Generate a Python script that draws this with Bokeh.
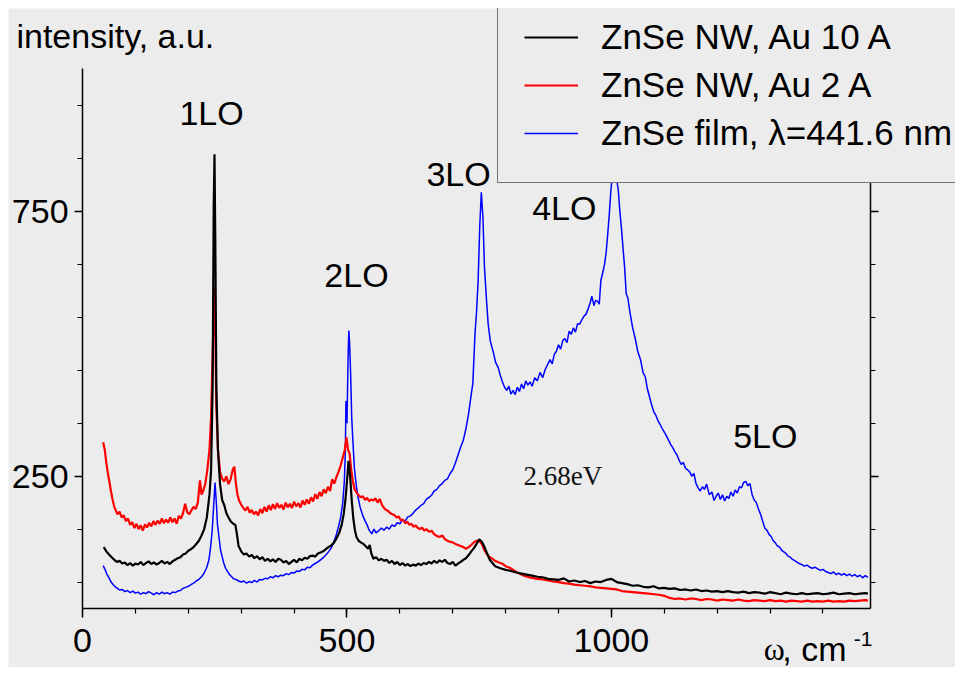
from bokeh.plotting import figure
from bokeh.models import (Range1d, LinearAxis, FixedTicker, SingleIntervalTicker,
                          Legend, LegendItem, Label)
from bokeh.embed import file_html
from bokeh.resources import INLINE

# ---------------- data ----------------
series_names = ["ZnSe NW, Au 10 A", "ZnSe NW, Au 2 A", "ZnSe film, \u03bb=441.6 nm"]

black_x = [40, 45, 50, 55, 60, 65, 70, 75, 80, 85, 90, 95, 100, 105, 110, 115, 120, 125, 130, 135,
           140, 145, 150, 155, 160, 165, 170, 175, 180, 185, 190, 195, 200, 205, 210, 215, 220, 225,
           230, 235, 240, 243, 246, 248, 249.5, 251, 253, 256, 260, 264, 268, 272, 276, 280, 285, 289,
           292, 295, 300, 305, 310, 315, 320, 325, 330, 335, 340, 345, 350, 355, 360, 365, 370, 375,
           380, 385, 390, 395, 400, 405, 410, 415, 420, 425, 430, 435, 440, 445, 450, 455, 460, 465,
           470, 475, 480, 485, 490, 494, 497, 500, 503, 506, 509, 512, 515, 518, 522, 526, 531, 535,
           540, 543, 546, 550, 555, 560, 565, 570, 575, 580, 585, 590, 595, 600, 605, 610, 615, 620,
           625, 630, 635, 640, 645, 650, 655, 660, 665, 670, 675, 680, 685, 690, 695, 700, 705, 710,
           715, 720, 725, 730, 735, 740, 745, 750, 755, 760, 765, 770, 775, 780, 785, 790, 800, 810,
           820, 830, 840, 850, 860, 870, 880, 890, 900, 910, 920, 930, 940, 950, 960, 970, 980, 990,
           1000, 1010, 1020, 1030, 1040, 1050, 1060, 1070, 1080, 1090, 1100, 1110, 1120, 1130, 1140,
           1150, 1160, 1170, 1180, 1190, 1200, 1210, 1220, 1230, 1240, 1250, 1260, 1270, 1280, 1290,
           1300, 1310, 1320, 1330, 1340, 1350, 1360, 1370, 1380, 1390, 1400, 1410, 1420, 1430, 1440,
           1450, 1460, 1470, 1480, 1485]
black_y = [116, 108, 102, 97, 92, 88, 90, 85, 87, 82, 86, 81, 85, 83, 88, 82, 86, 89, 84, 87,
           83, 86, 90, 85, 88, 84, 89, 92, 95, 97, 102, 104, 109, 112, 116, 122, 128, 138,
           150, 172, 215, 260, 420, 760, 858, 700, 420, 300, 235, 205, 195, 180, 172, 165, 160, 158,
           140, 118, 108, 102, 104, 98, 101, 95, 99, 93, 97, 90, 94, 89, 93, 88, 94, 92,
           87, 90, 84, 88, 92, 87, 94, 91, 96, 94, 99, 100, 98, 104, 106, 108, 112, 116,
           119, 124, 132, 142, 158, 180, 205, 240, 279, 250, 204, 170, 148, 135, 128, 125, 122, 118,
           113, 120, 104, 94, 97, 91, 94, 90, 92, 86, 90, 84, 88, 82, 86, 81, 84, 80,
           83, 81, 85, 82, 86, 84, 88, 85, 90, 86, 91, 88, 92, 86, 84, 88, 81, 85,
           88, 92, 95, 101, 108, 114, 122, 131, 126, 116, 104, 92, 86, 80, 78, 76, 73, 71,
           68, 66, 64, 62, 60, 59, 56, 55, 54, 57, 51, 53, 50, 52, 48, 51, 50, 54,
           56, 50, 48, 46, 43, 44, 41, 40, 42, 38, 39, 37, 38, 35, 36,
           34, 36, 33, 34, 32, 33, 31, 33, 31, 30, 32, 29, 31, 30, 28,
           31, 29, 27, 30, 28, 27, 29, 27, 28, 29, 27, 28, 30, 27, 28,
           29, 27, 28, 29, 28]

red_x = [39, 42, 45, 48, 51, 54, 57, 60, 63, 66, 70, 74, 78, 82, 86, 90, 94, 98, 102, 106, 110,
         114, 118, 122, 126, 130, 134, 138, 142, 146, 150, 154, 158, 162, 166, 170, 174, 178, 182,
         186, 190, 194, 198, 202, 206, 210, 214, 218, 222, 225, 228, 232, 236, 240, 243, 246, 248,
         249.5, 251, 253, 256, 260, 264, 268, 272, 276, 280, 284, 287, 290, 293, 296, 300, 304, 308,
         312, 316, 320, 324, 328, 332, 336, 340, 344, 348, 352, 356, 360, 364, 368, 372, 376, 380,
         384, 388, 392, 396, 400, 404, 408, 412, 416, 420, 424, 428, 432, 436, 440, 444, 448, 452,
         456, 460, 464, 468, 472, 476, 480, 484, 488, 492, 496, 499, 502, 505, 508, 511, 514, 518,
         522, 526, 530, 534, 538, 542, 546, 550, 554, 558, 562, 566, 570, 574, 578, 582, 586, 590,
         594, 598, 602, 606, 610, 614, 618, 622, 626, 630, 634, 638, 642, 646, 650, 655, 660, 665,
         670, 675, 680, 685, 690, 695, 700, 705, 710, 715, 720, 725, 730, 735, 740, 745, 750, 755,
         760, 765, 770, 775, 780, 785, 790, 795, 800, 810, 820, 830, 840, 850, 860, 870, 880, 890,
         900, 910, 920, 930, 940, 950, 960, 970, 980, 990, 1000, 1010, 1020, 1030, 1040, 1050, 1060,
         1070, 1080, 1090, 1100, 1110, 1120, 1130, 1140, 1150, 1160, 1170, 1180, 1190, 1200, 1210,
         1220, 1230, 1240, 1250, 1260, 1270, 1280, 1290, 1300, 1310, 1320, 1330, 1340, 1350, 1360,
         1370, 1380, 1390, 1400, 1410, 1420, 1430, 1440, 1450, 1460, 1470, 1480, 1485]
red_y = [314, 300, 275, 255, 238, 220, 205, 192, 185, 178, 183, 172, 176, 165, 170, 158, 163, 152, 160, 150, 157,
         147, 159, 153, 162, 155, 165, 158, 166, 160, 170, 161, 168, 162, 172, 163, 170, 160, 175,
         170, 180, 198, 182, 178, 186, 192, 188, 200, 242, 215, 222, 235, 262, 300, 360, 480, 560,
         606, 520, 380, 300, 258, 245, 240, 250, 235, 244, 262, 268, 236, 215, 204, 196, 190, 185,
         192, 181, 186, 178, 183, 176, 188, 180, 192, 183, 195, 186, 197, 188, 199, 190, 196, 187,
         200, 191, 198, 190, 202, 193, 199, 191, 204, 196, 206, 198, 210, 202, 216, 207, 220, 212,
         225, 218, 230, 222, 244, 236, 248, 258, 270, 285, 300, 323, 300, 292, 262, 242, 226, 219,
         214, 210, 212, 205, 209, 203, 206, 204, 208, 200, 207, 196, 190, 186, 184, 180, 178, 176,
         172, 174, 166, 168, 161, 164, 158, 160, 154, 157, 152, 150, 153, 147, 150, 145, 147, 140,
         137, 135, 138, 131, 128, 126, 125, 122, 120, 118, 116, 113, 116, 120, 125, 128, 128, 122,
         110, 102, 97, 94, 90, 88, 86, 84, 80, 76, 69, 64, 60, 58, 56, 55, 53, 51,
         50, 48, 47, 45, 44, 43, 42, 40, 39, 38, 37, 36, 33, 32, 31, 30, 29,
         28, 27, 26, 24, 20, 18, 19, 17, 19, 18, 16, 18, 17, 15, 17,
         16, 15, 17, 15, 14, 16, 15, 14, 16, 14, 15, 13, 15, 14, 13,
         15, 13, 14, 13, 15, 13, 14, 13, 15, 14, 15, 16, 15]

blue_x = [39, 42, 46, 50, 54, 58, 62, 66, 70, 75, 80, 85, 90, 95, 100, 105, 110, 115, 120, 125, 130,
          135, 140, 145, 150, 155, 160, 165, 170, 175, 180, 185, 190, 195, 200, 205, 210, 215, 220,
          225, 230, 235, 239, 242, 245, 248, 250.5, 253, 255, 258, 261, 264, 267, 270, 274, 278, 282,
          286, 290, 295, 300, 305, 310, 315, 320, 325, 330, 335, 340, 345, 350, 355, 360, 365, 370,
          375, 380, 385, 390, 395, 400, 405, 410, 415, 420, 425, 430, 435, 440, 445, 450, 455, 460,
          465, 470, 475, 480, 484, 488, 492, 495, 497, 498, 500, 502, 503.5, 505, 507, 509, 511, 514,
          518, 521, 525, 530, 534, 538, 542, 547, 551, 555, 560, 565, 570, 575, 580, 585, 590, 595,
          600, 605, 610, 615, 620, 625, 630, 635, 640, 645, 650, 655, 660, 665, 670, 675, 680, 685,
          690, 695, 700, 705, 710, 715, 720, 725, 730, 735, 738, 742, 745, 748, 751, 754, 757, 760,
          764, 767, 771, 776, 781, 786, 790, 794, 798, 802, 806, 810, 814, 818, 822, 826, 830, 834,
          838, 842, 846, 850, 855, 860, 865, 870, 875, 880, 884, 888, 892, 896, 900, 904, 908, 912,
          916, 920, 924, 928, 932, 936, 940, 944, 948, 952, 956, 960, 963, 967, 970, 974, 977, 980,
          984, 987, 990, 993, 996, 999, 1002, 1006, 1010, 1013, 1016, 1019, 1022, 1025, 1028, 1031,
          1035, 1040, 1045, 1050, 1055, 1060, 1064, 1068, 1072, 1076, 1080, 1084, 1088, 1092, 1096,
          1100, 1104, 1108, 1112, 1116, 1120, 1124, 1128, 1132, 1136, 1140, 1144, 1148, 1152, 1156,
          1160, 1164, 1168, 1172, 1176, 1180, 1185, 1190, 1194, 1198, 1202, 1206, 1210, 1214, 1218,
          1222, 1226, 1230, 1234, 1238, 1242, 1246, 1250, 1254, 1258, 1262, 1266, 1270, 1274, 1278,
          1282, 1286, 1290, 1294, 1298, 1302, 1306, 1310, 1314, 1318, 1322, 1326, 1330, 1334, 1338,
          1342, 1346, 1350, 1355, 1360, 1365, 1370, 1375, 1380, 1385, 1390, 1395, 1400, 1405, 1410,
          1415, 1420, 1425, 1430, 1435, 1440, 1445, 1450, 1455, 1460, 1465, 1470, 1475, 1480, 1485]
blue_y = [81, 75, 65, 58, 50, 45, 41, 38, 35, 36, 32, 34, 30, 33, 29, 31, 27, 30, 28, 32, 29,
          26, 30, 27, 31, 28, 30, 27, 31, 30, 33, 34, 38, 40, 42, 45, 48, 52, 55,
          60, 67, 78, 92, 115, 145, 195, 238, 200, 160, 135, 110, 98, 86, 77, 70, 64, 60,
          56, 55, 52, 50, 52, 48, 51, 49, 53, 50, 55, 54, 57, 56, 60, 58, 62, 60,
          63, 62, 66, 64, 68, 67, 71, 70, 74, 73, 78, 77, 82, 85, 88, 92, 96, 101,
          107, 114, 125, 140, 155, 172, 200, 240, 300, 392, 350, 470, 525, 500, 440, 360, 320, 265,
          229, 210, 191, 175, 166, 158, 148, 141, 150, 143, 147, 152, 148, 154, 150, 158, 155, 162,
          160, 167, 165, 173, 175, 180, 186, 190, 195, 198, 206, 210, 214, 222, 225, 232, 236, 242,
          245, 255, 262, 275, 290, 305, 318, 340, 368, 405, 425, 518, 560, 620, 720, 786, 740, 644,
          580, 537, 505, 487, 465, 455, 440, 428, 418, 412, 420, 405, 412, 404, 418, 410, 424, 415,
          430, 422, 428, 420, 436, 430, 446, 436, 452, 462, 470, 462, 480, 486, 498, 490, 506, 510,
          502, 524, 518, 530, 522, 538, 537, 545, 552, 556, 566, 578, 590, 572, 582, 580, 575, 619,
          636, 650, 672, 707, 745, 790, 820, 830, 810, 790, 750, 718, 680, 644, 594, 587,
          560, 531, 510, 485, 470, 445, 438, 415, 400, 385, 372, 365, 355, 348, 340,
          333, 326, 318, 310, 304, 296, 290, 280, 272, 276, 265, 262, 258, 250, 255,
          236, 228, 222, 230, 225, 235, 215, 220, 204, 212, 218, 206, 215, 203, 212,
          208, 220, 212, 224, 218, 230, 228, 238, 240, 232, 236, 215, 205, 200, 188,
          178, 165, 152, 148, 140, 136, 128, 124, 118, 116, 110, 107, 104, 99, 97,
          93, 91, 88, 85, 83, 80, 82, 78, 76, 78, 75, 72, 74, 70, 68,
          66, 69, 64, 67, 63, 66, 62, 65, 61, 64, 60, 63, 58, 62, 59]

x_major_interval = 500
y_major_ticks = [250, 750]
y_minor_ticks = [50, 150, 350, 450, 550, 650, 850, 950]
x_axis_bounds = (0, 1490)
y_axis_bounds = (0, 1020)

peak_labels = ["1LO", "2LO", "3LO", "4LO", "5LO"]

# ---------------- figure ----------------
BG = "#ececec"
FONT = "Liberation Sans"

p = figure(width=955, height=667, output_backend="svg", toolbar_location=None,
           x_range=Range1d(-140, 1650.6), y_range=Range1d(-111.4, 1133.3),
           x_axis_location=None, y_axis_location=None,
           min_border_left=8, min_border_right=0,
           min_border_top=8, min_border_bottom=0,
           background_fill_color=BG, border_fill_color="white", outline_line_color=None)
p.grid.visible = False

rb = p.line(blue_x, blue_y, line_color="#0000ff", line_width=1.5)
rr = p.line(red_x, red_y, line_color="#ff0000", line_width=2.2)
rk = p.line(black_x, black_y, line_color="#000000", line_width=2.2)


def style_axis(ax):
    ax.axis_line_color = "black"
    ax.axis_line_width = 1.5
    ax.major_tick_line_width = 1.5
    ax.minor_tick_line_width = 1.2
    ax.major_tick_in = 0
    ax.minor_tick_in = 0
    ax.major_tick_out = 9
    ax.minor_tick_out = 5
    ax.major_label_text_font = FONT
    ax.major_label_text_font_size = "34px"
    ax.major_label_text_color = "black"
    ax.major_label_standoff = 6


xa = LinearAxis(ticker=SingleIntervalTicker(interval=x_major_interval, num_minor_ticks=5),
                fixed_location=0, bounds=x_axis_bounds)
style_axis(xa)
xa.major_label_standoff = 11
p.add_layout(xa, "below")

ya = LinearAxis(ticker=FixedTicker(ticks=y_major_ticks, minor_ticks=y_minor_ticks),
                fixed_location=0, bounds=y_axis_bounds)
style_axis(ya)
ya.major_tick_out = 8
p.add_layout(ya, "left")

ra = LinearAxis(ticker=FixedTicker(ticks=y_major_ticks, minor_ticks=y_minor_ticks),
                fixed_location=x_axis_bounds[1], bounds=y_axis_bounds,
                major_label_overrides={250: "", 750: ""})
style_axis(ra)
ra.major_tick_out = 8
ra.major_label_text_font_size = "10px"
p.add_layout(ra, "right")

# legend
legend = Legend(items=[LegendItem(label=series_names[0], renderers=[rk]),
                       LegendItem(label=series_names[1], renderers=[rr]),
                       LegendItem(label=series_names[2], renderers=[rb])],
                location=(489, 484), padding=26, spacing=2, margin=0,
                label_height=46, glyph_height=46, glyph_width=54, label_standoff=23,
                label_text_font=FONT, label_text_font_size="35px", label_text_color="black",
                border_line_color="black", border_line_width=1.5,
                background_fill_color=BG, background_fill_alpha=1.0)
p.add_layout(legend)

# texts
p.add_layout(Label(x=-125, y=1082, text="intensity, a.u.", text_font=FONT,
                   text_font_size="34px", text_color="black", text_baseline="alphabetic"))
label_pos = [(244, 935), (518, 629), (711, 820), (911, 757), (1291, 325)]
for t, (lx, ly) in zip(peak_labels, label_pos):
    p.add_layout(Label(x=lx, y=ly, text=t, text_font=FONT, text_font_size="34px",
                       text_color="black", text_align="center", text_baseline="alphabetic"))
p.add_layout(Label(x=834, y=251, text="2.68eV", text_font="Liberation Serif",
                   text_font_size="27px", text_color="#111111", text_baseline="alphabetic"))
p.add_layout(Label(x=1288, y=-77, text="\u03c9", text_font="Liberation Serif",
                   text_font_size="32px", text_color="black", text_baseline="alphabetic"))
p.add_layout(Label(x=1323, y=-76, text=", cm", text_font=FONT,
                   text_font_size="34px", text_color="black", text_baseline="alphabetic"))
p.add_layout(Label(x=1458, y=-57, text="-1", text_font=FONT,
                   text_font_size="21px", text_color="black", text_baseline="alphabetic"))

open("out.html", "w").write(file_html(p, INLINE))
